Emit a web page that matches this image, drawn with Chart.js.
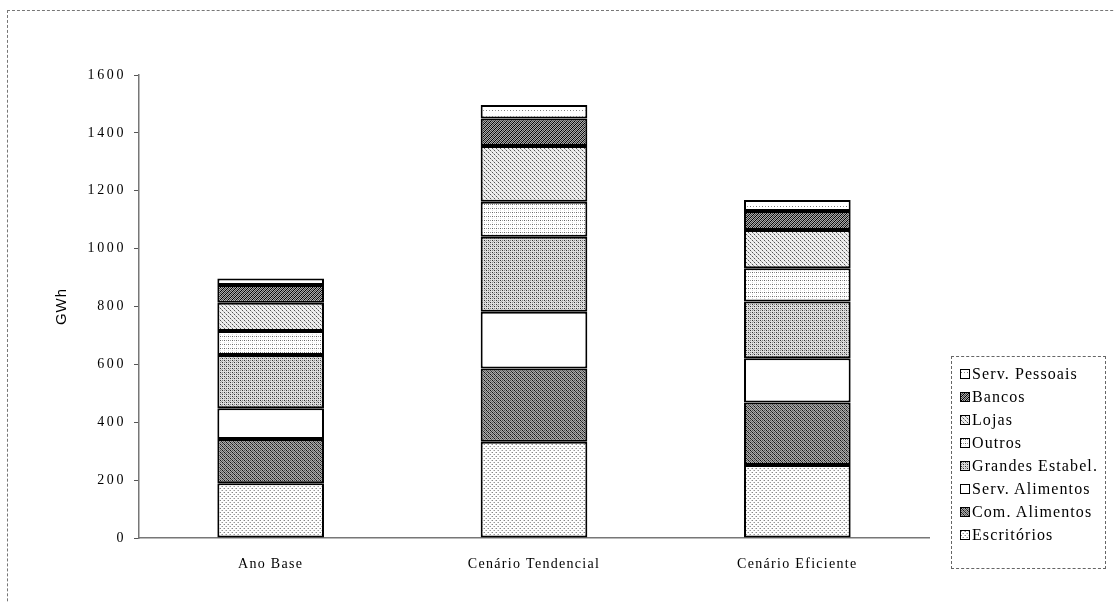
<!DOCTYPE html>
<html>
<head>
<meta charset="utf-8">
<script src="https://cdn.jsdelivr.net/npm/chart.js@4.4.0/dist/chart.umd.min.js"></script>
<style>
html, body { margin: 0; padding: 0; background: #fff; overflow: hidden; }
#wrap { position: relative; width: 1115px; height: 603px; }
#frame { position: absolute; left: 7px; top: 10px; width: 1200px; height: 700px; border-left: 1px dashed #777; border-top: 1px dashed #777; }
#chart { position: absolute; left: 0; top: 0; }
#legend { position: absolute; left: 951px; top: 356px; width: 155px; height: 213px; box-sizing: border-box;
  border: 1px dashed #666; padding-top: 5px; font-family: "Liberation Serif", serif; font-size: 16px; letter-spacing: 1.1px; color: #000; background: #fff; overflow: hidden; }
.item { display: flex; align-items: center; height: 23px; padding-left: 8px; white-space: nowrap; }
.item canvas { border: 1.5px solid #000; margin-right: 2px; }
</style>
</head>
<body>
<div id="wrap">
  <div id="frame"></div>
  <canvas id="chart" width="1115" height="603"></canvas>
  <div id="legend"></div>
</div>
<script>
var categories = ['Ano Base', 'Cenário Tendencial', 'Cenário Eficiente'];
var escritorios = [189, 333, 252];
var comAlimentos = [153, 253, 216];
var servAlimentos = [106, 196, 153];
var grandesEstabel = [184, 259, 196];
var outros = [83, 121, 115];
var lojas = [98, 193, 132];
var bancos = [61, 95, 66];
var servPessoais = [23, 46, 38];
var yMin = 0, yMax = 1600, yStep = 200;

// little dot textures, like the old print screens
function pattern(size, bg, dots) {
    var c = document.createElement('canvas');
    c.width = size; c.height = size;
    var g = c.getContext('2d');
    g.fillStyle = bg;
    g.fillRect(0, 0, size, size);
    dots.forEach(function (d) {
        g.fillStyle = d[2];
        g.fillRect(d[0], d[1], 1, 1);
    });
    return g.createPattern(c, 'repeat');
}

var fills = {
    escritorios: pattern(4, '#fff', [[0, 0, '#888'], [2, 2, '#999'], [3, 0, '#ccc'], [1, 2, '#ccc']]),
    comAlimentos: pattern(4, '#aaa', [[0, 0, '#111'], [2, 0, '#555'], [1, 1, '#333'], [3, 1, '#777'], [0, 2, '#555'], [2, 2, '#111'], [1, 3, '#777'], [3, 3, '#333']]),
    servAlimentos: '#fff',
    grandesEstabel: pattern(4, '#ddd', [[0, 0, '#333'], [2, 2, '#333'], [2, 0, '#888'], [0, 2, '#888'], [1, 1, '#aaa']]),
    outros: pattern(4, '#fff', [[0, 0, '#666'], [2, 0, '#999'], [0, 2, '#ddd']]),
    lojas: pattern(4, '#eee', [[0, 0, '#555'], [2, 2, '#555'], [1, 1, '#aaa'], [3, 3, '#bbb']]),
    bancos: pattern(4, '#aaa', [[0, 3, '#000'], [1, 2, '#000'], [2, 1, '#000'], [3, 0, '#000'], [0, 1, '#444'], [1, 0, '#444'], [2, 3, '#444'], [3, 2, '#444']]),
    servPessoais: pattern(6, '#fff', [[0, 2, '#777'], [3, 2, '#999']])
};

function ds(label, data, fill) {
    return {
        label: label,
        data: data,
        backgroundColor: fill,
        borderColor: '#000',
        borderWidth: 2,
        borderSkipped: false,
        barPercentage: 0.405,
        categoryPercentage: 1
    };
}

// the print has wide letter spacing; canvas can do it at draw time
function spaced(px) {
    return function (s) {
        if (s._spaced) return;
        s._spaced = true;
        var drawLabels = s.drawLabels.bind(s);
        var drawTitle = s.drawTitle.bind(s);
        s.drawLabels = function (a) {
            s.ctx.save(); s.ctx.letterSpacing = px + 'px'; drawLabels(a); s.ctx.restore();
        };
        s.drawTitle = function (a) {
            s.ctx.save(); s.ctx.letterSpacing = '1px'; drawTitle(a); s.ctx.restore();
        };
    };
}

var serif = '"Liberation Serif", "Times New Roman", serif';

var chart = new Chart(document.getElementById('chart'), {
    type: 'bar',
    data: {
        labels: categories,
        datasets: [
            ds('Escritórios', escritorios, fills.escritorios),
            ds('Com. Alimentos', comAlimentos, fills.comAlimentos),
            ds('Serv. Alimentos', servAlimentos, fills.servAlimentos),
            ds('Grandes Estabel.', grandesEstabel, fills.grandesEstabel),
            ds('Outros', outros, fills.outros),
            ds('Lojas', lojas, fills.lojas),
            ds('Bancos', bancos, fills.bancos),
            ds('Serv. Pessoais', servPessoais, fills.servPessoais)
        ]
    },
    options: {
        responsive: false,
        animation: false,
        layout: { padding: { left: 0, right: 186, top: 75, bottom: 25 } },
        plugins: { legend: { display: false }, tooltip: { enabled: false } },
        scales: {
            x: {
                stacked: true,
                afterFit: function (s) { s.height = 40; },
                afterUpdate: spaced(1.3),
                grid: { display: false },
                border: { display: true, color: '#777', width: 1.5 },
                ticks: { color: '#000', padding: 10, font: { family: serif, size: 14 } }
            },
            y: {
                stacked: true,
                min: yMin,
                max: yMax,
                afterFit: function (s) { s.width = 139; },
                afterUpdate: spaced(2.6),
                grid: { display: true, drawOnChartArea: false, drawTicks: true, tickLength: 5, color: '#555' },
                border: { display: true, color: '#777', width: 1.5 },
                ticks: {
                    stepSize: yStep,
                    color: '#000',
                    padding: 8,
                    font: { family: serif, size: 14 },
                    callback: function (v) { return String(v); }
                },
                title: {
                    display: true,
                    text: 'GWh',
                    color: '#000',
                    padding: { top: 53, bottom: 0 },
                    font: { family: '"Liberation Sans", Arial, sans-serif', size: 15 }
                }
            }
        }
    }
});

// legend box, top entry = top segment
var legend = document.getElementById('legend');
chart.data.datasets.slice().reverse().forEach(function (d) {
    var row = document.createElement('div');
    row.className = 'item';
    var sw = document.createElement('canvas');
    sw.width = 8; sw.height = 8;
    var g = sw.getContext('2d');
    g.fillStyle = d.backgroundColor;
    g.fillRect(0, 0, 8, 8);
    row.appendChild(sw);
    row.appendChild(document.createTextNode(d.label));
    legend.appendChild(row);
});
</script>
</body>
</html>
